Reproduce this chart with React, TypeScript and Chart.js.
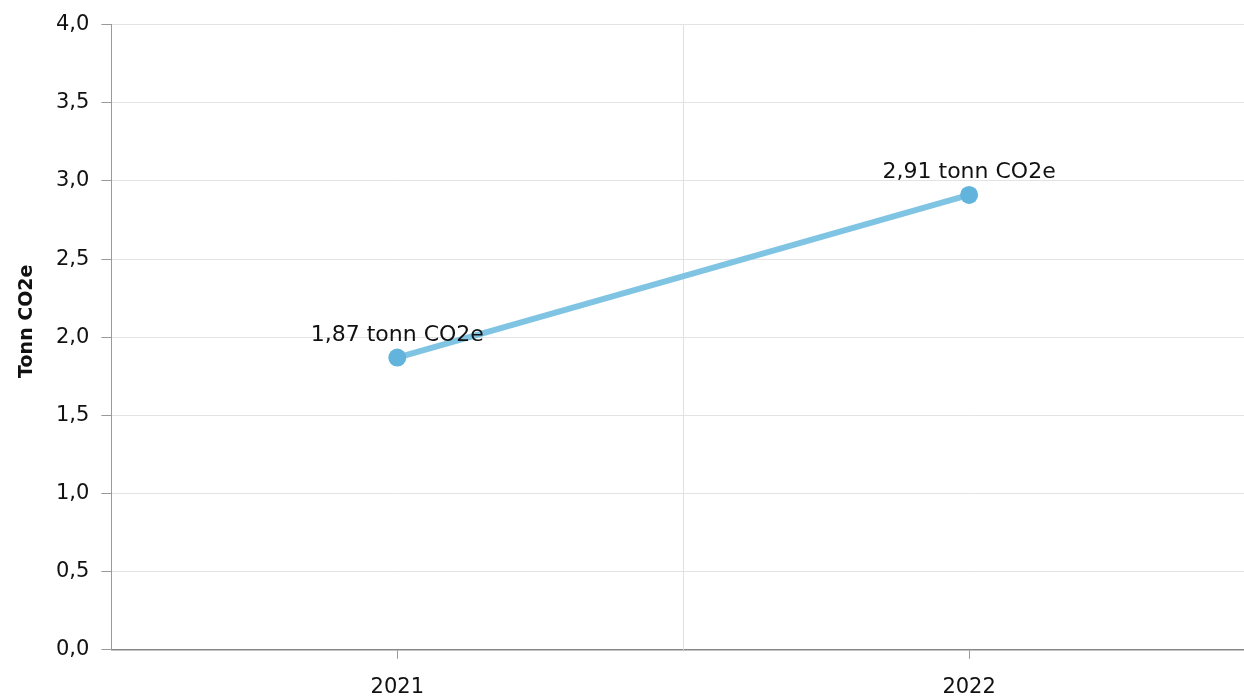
import React, { useEffect, useRef } from "react";
import { Chart, registerables } from "chart.js";

Chart.register(...registerables);

const categories = ["2021", "2022"];
const values = [1.87, 2.91];
const unitSuffix = " tonn CO2e";
const yTitle = "Tonn CO2e";
const yMin = 0;
const yMax = 4;
const yStep = 0.5;

const FONT = "'DejaVu Sans', Verdana, sans-serif";

const fmt = (v: number, d: number) => v.toFixed(d).replace(".", ",");

const midGridPlugin = {
  id: "midGrid",
  beforeDatasetsDraw(chart: any) {
    const x = chart.scales.x;
    const area = chart.chartArea;
    const ctx = chart.ctx;
    ctx.save();
    ctx.strokeStyle = "#e0e0e0";
    ctx.lineWidth = 1;
    for (let i = 0; i < categories.length - 1; i++) {
      const px = Math.round((x.getPixelForValue(i) + x.getPixelForValue(i + 1)) / 2) + 0.5;
      ctx.beginPath();
      ctx.moveTo(px, area.top);
      ctx.lineTo(px, area.bottom);
      ctx.stroke();
    }
    ctx.restore();
  },
};

const labelPlugin = {
  id: "pointLabels",
  afterDatasetsDraw(chart: any) {
    const ctx = chart.ctx;
    const meta = chart.getDatasetMeta(0);
    ctx.save();
    ctx.font = `22px ${FONT}`;
    ctx.fillStyle = "#111";
    ctx.textAlign = "center";
    ctx.textBaseline = "alphabetic";
    meta.data.forEach((pt: any, i: number) => {
      ctx.fillText(fmt(values[i], 2) + unitSuffix, pt.x, pt.y - 17);
    });
    ctx.restore();
  },
};

const yTitlePlugin = {
  id: "yTitleText",
  afterDraw(chart: any) {
    const ctx = chart.ctx;
    const area = chart.chartArea;
    ctx.save();
    ctx.translate(27, (area.top + area.bottom) / 2 - 16);
    ctx.rotate(-Math.PI / 2);
    ctx.font = `bold 19px ${FONT}`;
    ctx.fillStyle = "#111";
    ctx.textAlign = "center";
    ctx.textBaseline = "middle";
    ctx.fillText(yTitle, 0, 0);
    ctx.restore();
  },
};

export default function App() {
  const ref = useRef<HTMLCanvasElement | null>(null);
  useEffect(() => {
    if (!ref.current) return;
    const chart = new Chart(ref.current, {
      type: "line",
      data: {
        labels: categories,
        datasets: [
          {
            data: values,
            borderColor: "#80c4e4",
            borderWidth: 6,
            pointRadius: 9,
            pointHoverRadius: 9,
            pointBackgroundColor: "#63b4dc",
            pointBorderWidth: 0,
            tension: 0,
          },
        ],
      },
      options: {
        animation: false,
        responsive: true,
        maintainAspectRatio: false,
        layout: { padding: { top: 10, right: 2, left: 44, bottom: 0 } },
        plugins: { legend: { display: false }, tooltip: { enabled: false } },
        scales: {
          x: {
            offset: true,
            afterFit: (s: any) => {
              s.height -= 12;
            },
            grid: {
              offset: false,
              drawOnChartArea: false,
              tickLength: 9,
              tickColor: "#999",
            },
            border: { color: "#888", width: 1.5 },
            ticks: { font: { family: FONT, size: 21 }, color: "#111", padding: 16 },
          },
          y: {
            min: yMin,
            max: yMax,
            grid: { color: "#e3e3e3", tickColor: "#999", tickLength: 10 },
            border: { color: "#999" },
            ticks: {
              stepSize: yStep,
              font: { family: FONT, size: 21 },
              color: "#111",
              padding: 12,
              callback: (v: any) => fmt(Number(v), 1),
            },
          },
        },
      },
      plugins: [midGridPlugin, labelPlugin, yTitlePlugin],
    });
    return () => chart.destroy();
  }, []);
  return (
    <div style={{ position: "fixed", left: 0, top: 0, width: 1244, height: 696, overflow: "hidden", background: "#fff" }}>
      <div style={{ position: "relative", width: 1264, height: 704 }}>
        <canvas ref={ref} />
      </div>
    </div>
  );
}
